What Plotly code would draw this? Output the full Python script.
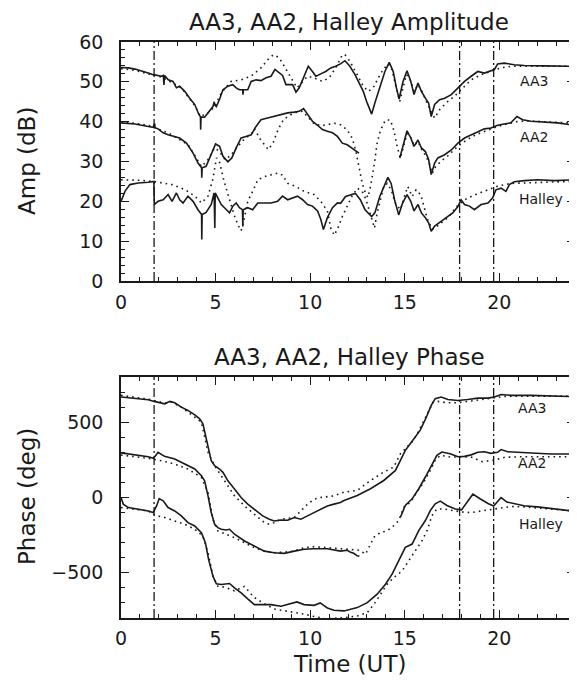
import plotly.graph_objects as go

# ---------------- data ----------------
event_times = [1.75, 17.9, 19.7]

# Amplitude panel (dB)
aa3_amp_t = [0, 0.4, 0.74, 1.1, 1.44, 1.7, 2.14, 2.24, 2.27, 2.3, 2.5, 2.75, 2.93, 3.1, 3.37, 3.63, 3.9, 4.1, 4.2, 4.21, 4.23, 4.42, 4.68, 4.86, 4.93, 4.95, 5.04, 5.2, 5.39, 5.65, 5.91, 6.09, 6.26, 6.43, 6.45, 6.47, 6.7, 6.88, 7.14, 7.4, 7.67, 7.93, 8.14, 8.37, 8.54, 8.72, 8.89, 9.07, 9.25, 9.42, 9.6, 9.77, 9.9, 10.12, 10.3, 10.56, 10.82, 11.09, 11.35, 11.6, 11.84, 12.1, 12.37, 12.63, 12.81, 12.98, 13.25, 13.42, 13.68, 13.95, 14.18, 14.39, 14.56, 14.7, 14.91, 15.12, 15.32, 15.49, 15.7, 15.88, 16.09, 16.26, 16.4, 16.58, 16.84, 17.11, 17.46, 17.81, 18.16, 18.51, 18.86, 19.21, 19.47, 19.74, 19.91, 20.26, 20.79, 21.32, 22.37, 24]
aa3_amp = [53.6, 53.5, 53.2, 52.6, 52.2, 51.8, 51.4, 51.6, 49.2, 51.6, 50.5, 50.1, 48.5, 48.9, 47.6, 45.9, 44.3, 42.0, 41.2, 38.0, 41.2, 41.1, 42.6, 43.8, 45.0, 44.2, 43.8, 45.5, 48.0, 48.9, 49.3, 48.5, 48.0, 48.0, 46.8, 48.0, 48.0, 50.1, 50.5, 50.3, 51.0, 51.4, 53.1, 52.2, 51.6, 49.3, 49.3, 49.3, 47.4, 48.5, 50.5, 52.6, 53.9, 52.6, 51.4, 52.0, 52.6, 53.5, 53.9, 54.5, 55.3, 53.9, 51.8, 49.3, 47.6, 45.1, 41.9, 44.7, 48.5, 52.6, 54.9, 52.6, 48.5, 45.7, 50.1, 52.8, 50.1, 46.8, 49.7, 47.6, 45.9, 44.7, 41.3, 44.3, 45.5, 45.9, 46.8, 48.5, 50.1, 51.4, 52.6, 52.2, 52.6, 53.1, 54.5, 54.7, 54.3, 54.1, 54.0, 53.9]

aa3_amp_model_t = [0, 0.74, 1.44, 2.14, 3.19, 3.9, 4.2, 4.6, 4.95, 5.3, 5.82, 6.35, 6.88, 7.4, 7.84, 8.07, 8.37, 8.72, 9.07, 9.3, 9.51, 9.86, 10.2, 10.65, 11.0, 11.35, 11.7, 11.84, 12.1, 12.46, 12.81, 13.07, 13.33, 13.6, 13.86, 14.12, 14.3, 14.51, 14.74, 14.91, 15.09, 15.26, 15.49, 15.7, 15.91, 16.14, 16.37, 16.58, 16.84, 17.19, 17.63, 18.07, 18.51, 19.04, 19.56, 20.09, 20.61, 21.32, 22.37, 24]
aa3_amp_model = [53.3, 52.9, 52.0, 51.2, 48.5, 44.0, 41.3, 42.2, 43.8, 47.2, 50.1, 50.5, 51.4, 53.5, 56.0, 56.8, 56.0, 53.1, 50.1, 48.5, 49.5, 51.4, 51.0, 50.1, 51.0, 53.5, 56.8, 56.8, 55.2, 51.8, 48.9, 47.6, 48.5, 51.0, 53.1, 54.5, 53.5, 49.3, 45.1, 48.5, 51.8, 51.0, 47.6, 49.3, 47.6, 45.1, 43.0, 40.9, 43.0, 44.7, 46.4, 48.5, 50.5, 51.8, 52.6, 53.5, 53.9, 53.9, 54.0, 53.9]

aa2_amp_t = [0, 0.3, 0.74, 1.44, 1.7, 1.78, 1.8, 1.96, 2.23, 2.49, 2.75, 3.1, 3.46, 3.81, 4.07, 4.26, 4.27, 4.29, 4.5, 4.77, 5.0, 5.21, 5.39, 5.65, 5.86, 6.09, 6.35, 6.61, 6.88, 7.14, 7.4, 7.75, 8.1, 8.46, 8.81, 9.16, 9.42, 9.65, 9.86, 10.12, 10.39, 10.65, 10.91, 11.18, 11.44, 11.7, 11.96, 12.32, 12.58, 13.5, 14.74, 14.91, 15.12, 15.32, 15.49, 15.7, 15.88, 16.09, 16.26, 16.4, 16.58, 16.75, 17.11, 17.46, 17.81, 18.16, 18.51, 18.86, 19.21, 19.56, 19.91, 20.26, 20.61, 20.93, 21.23, 21.67, 22.37, 23.07, 24]
aa2_amp = [39.7, 39.6, 39.4, 38.8, 38.6, 39.5, 38.5, 38.2, 37.2, 36.7, 36.3, 35.9, 34.6, 32.1, 29.6, 28.4, 25.9, 28.4, 28.8, 32.1, 34.4, 33.8, 31.3, 29.9, 30.9, 33.4, 35.9, 36.3, 36.7, 38.8, 40.5, 40.9, 41.3, 41.9, 42.2, 42.4, 42.6, 43.3, 41.8, 40.1, 39.1, 38.0, 37.6, 37.2, 36.3, 34.6, 34.2, 32.9, 32.1, None, 30.9, 34.2, 37.7, 35.9, 33.8, 35.4, 33.4, 32.5, 30.5, 26.7, 29.6, 30.9, 31.7, 32.9, 34.6, 35.9, 36.7, 37.6, 38.2, 38.4, 39.1, 39.4, 39.7, 41.3, 40.5, 40.1, 39.9, 39.7, 39.1]

aa2_amp_model_t = [0, 0.74, 1.44, 2.49, 3.55, 4.07, 4.26, 4.6, 4.95, 5.2, 5.5, 5.8, 6.1, 6.5, 6.9, 7.05, 7.4, 7.79, 8.05, 8.3, 8.6, 9.0, 9.3, 9.6, 9.9, 10.2, 10.6, 11.0, 11.3, 11.61, 11.96, 12.23, 12.4, 12.58, 12.75, 12.93, 13.05, 13.19, 13.37, 13.54, 13.72, 13.98, 14.24, 14.42, 14.6, 14.77, 14.95, 15.12, 15.32, 15.49, 15.7, 15.9, 16.1, 16.3, 16.45, 16.6, 16.9, 17.3, 17.8, 18.3, 18.8, 19.3, 19.8, 20.3, 20.9, 21.5, 22.4, 23.2, 24]
aa2_amp_model = [39.9, 39.6, 39.1, 37.2, 34.2, 30.0, 28.7, 30.5, 33.4, 32.5, 30.5, 31.5, 33.4, 35.5, 37.0, 38.2, 35.3, 33.0, 34.8, 38.0, 40.6, 41.8, 42.4, 42.6, 41.0, 39.5, 39.0, 39.3, 39.6, 39.2, 37.9, 35.8, 32.9, 28.7, 24.5, 22.0, 21.0, 23.7, 28.7, 34.6, 37.9, 40.4, 40.4, 37.9, 33.7, 30.8, 34.0, 37.0, 36.0, 34.0, 35.0, 33.0, 31.5, 29.5, 27.0, 28.5, 30.0, 31.5, 33.8, 35.5, 36.8, 37.8, 38.6, 39.3, 40.0, 40.2, 40.0, 39.8, 39.6]

halley_amp_t = [0, 0.21, 0.47, 0.91, 1.44, 1.74, 1.76, 1.96, 2.23, 2.49, 2.7, 2.93, 3.1, 3.28, 3.54, 3.81, 4.07, 4.26, 4.27, 4.29, 4.5, 4.77, 4.92, 4.96, 4.98, 5.12, 5.3, 5.47, 5.74, 5.91, 6.09, 6.26, 6.42, 6.44, 6.46, 6.7, 6.96, 7.23, 7.58, 7.93, 8.28, 8.54, 8.81, 9.07, 9.33, 9.6, 9.86, 10.12, 10.39, 10.56, 10.7, 10.91, 11.18, 11.44, 11.61, 11.87, 12.13, 12.39, 12.65, 12.9, 13.25, 13.42, 13.68, 13.95, 14.11, 14.28, 14.46, 14.68, 14.88, 15.12, 15.32, 15.49, 15.7, 15.88, 16.09, 16.26, 16.4, 16.58, 16.84, 17.19, 17.54, 17.81, 17.98, 18.16, 18.42, 18.68, 19.04, 19.4, 19.65, 19.82, 20.09, 20.35, 20.53, 20.79, 21.32, 22.02, 22.9, 24]
halley_amp = [20.0, 22.5, 24.2, 24.6, 24.8, 25.0, 19.2, 20.0, 20.4, 21.7, 20.0, 22.1, 20.4, 19.6, 21.3, 20.0, 17.9, 16.7, 10.4, 16.7, 17.2, 19.2, 22.1, 13.3, 22.1, 20.9, 19.2, 18.4, 17.1, 18.8, 19.6, 18.4, 17.9, 13.7, 17.9, 18.4, 17.9, 19.6, 19.6, 19.6, 20.0, 21.3, 20.4, 20.9, 21.3, 20.4, 19.2, 18.8, 17.6, 15.5, 12.9, 15.9, 18.4, 19.6, 19.5, 21.2, 21.6, 22.0, 20.4, 17.9, 16.2, 17.1, 21.2, 24.5, 26.0, 24.5, 20.4, 16.6, 19.5, 21.7, 20.0, 17.6, 19.2, 17.1, 15.9, 14.6, 12.5, 13.8, 14.6, 15.9, 17.1, 18.7, 20.4, 19.2, 18.8, 17.9, 19.2, 19.6, 20.9, 22.9, 23.3, 22.5, 24.2, 24.9, 25.2, 25.4, 25.2, 25.4]

halley_amp_model_t = [0, 1.0, 1.7, 2.7, 3.4, 3.9, 4.25, 4.6, 4.85, 5.05, 5.2, 5.45, 5.7, 5.98, 6.18, 6.35, 6.52, 6.7, 6.96, 7.23, 7.58, 7.93, 8.28, 8.54, 8.81, 9.25, 9.68, 10.21, 10.56, 10.91, 11.1, 11.28, 11.5, 11.7, 11.96, 12.2, 12.49, 12.75, 12.95, 13.1, 13.28, 13.4, 13.54, 13.72, 13.89, 14.07, 14.28, 14.51, 14.77, 14.98, 15.16, 15.39, 15.6, 15.85, 16.0, 16.2, 16.45, 16.65, 16.9, 17.3, 17.8, 18.3, 18.8, 19.4, 19.9, 20.6, 21.5, 22.5, 24]
halley_amp_model = [25.4, 25.3, 25.0, 24.2, 22.9, 21.3, 19.6, 21.3, 25.5, 30.9, 30.0, 25.0, 21.0, 16.6, 14.1, 12.6, 15.7, 20.0, 22.5, 25.4, 26.2, 26.6, 27.1, 26.6, 24.5, 23.7, 22.5, 21.7, 20.0, 17.6, 13.0, 11.5, 13.7, 16.2, 18.7, 21.2, 23.3, 22.5, 20.5, 17.9, 15.4, 13.3, 17.1, 20.4, 23.7, 24.5, 22.9, 19.5, 17.9, 21.2, 23.7, 21.2, 22.9, 21.6, 19.0, 15.5, 13.0, 13.5, 14.5, 16.0, 19.0, 20.8, 21.8, 22.9, 23.8, 24.5, 24.7, 24.8, 25.0]

# Phase panel (deg)
aa3_ph_t = [0, 0.74, 1.44, 1.75, 2.14, 2.32, 2.58, 2.84, 3.19, 3.54, 3.9, 4.16, 4.33, 4.46, 4.6, 4.77, 4.95, 5.21, 5.39, 5.65, 6.0, 6.35, 6.7, 7.05, 7.49, 7.84, 8.1, 8.46, 8.81, 9.16, 9.51, 9.86, 10.21, 10.56, 10.91, 11.26, 11.6, 11.79, 12.49, 13.19, 13.89, 14.51, 14.77, 15.03, 15.3, 15.56, 15.82, 16.14, 16.4, 16.61, 16.93, 17.28, 17.81, 18.33, 18.86, 19.39, 19.74, 20.09, 20.61, 21.67, 22.72, 24]
aa3_ph = [667, 660, 649, 638, 627, 622, 638, 629, 600, 578, 549, 522, 489, 411, 322, 244, 211, 189, 167, 111, 56, 0, -44, -78, -122, -144, -156, -149, -151, -133, -144, -122, -100, -73, -56, -44, -33, -20, 13, 58, 113, 180, 247, 313, 358, 402, 447, 533, 611, 656, 667, 651, 644, 651, 660, 660, 667, 684, 678, 678, 673, 669]

aa3_ph_model_t = [0, 1.44, 2.32, 2.67, 3.19, 4.25, 4.6, 4.95, 5.3, 5.65, 6.0, 6.53, 7.05, 7.58, 7.84, 8.1, 8.46, 9.16, 9.86, 10.21, 10.56, 11.26, 11.79, 12.49, 13.19, 13.89, 14.42, 14.77, 15.12, 15.47, 15.8, 16.14, 16.5, 16.75, 17.28, 17.81, 18.33, 19.04, 19.74, 20.26, 21.3, 24]
aa3_ph_model = [678, 653, 627, 633, 600, 500, 300, 211, 144, 78, 11, -56, -111, -167, -178, -167, -144, -133, -44, -11, 0, 11, 36, 47, 113, 169, 202, 291, 336, 380, 456, 544, 633, 638, 629, 629, 638, 651, 660, 671, 673, 673]

aa2_ph_t = [0, 0.74, 1.44, 1.72, 1.96, 2.3, 2.84, 3.37, 3.9, 4.25, 4.42, 4.6, 4.77, 4.95, 5.12, 5.3, 5.56, 5.74, 6.0, 6.53, 7.05, 7.58, 8.1, 8.63, 9.16, 9.68, 10.21, 10.91, 11.6, 11.96, 12.14, 12.3, 12.49, 12.6, 13.7, 14.77, 15.03, 15.39, 15.74, 16.09, 16.44, 16.7, 16.96, 17.4, 17.81, 18.16, 18.51, 18.86, 19.21, 19.56, 19.91, 20.09, 20.44, 20.96, 21.67, 22.72, 24]
aa2_ph = [296, 284, 271, 260, 300, 273, 256, 222, 189, 144, 111, 11, -100, -178, -200, -211, -216, -211, -244, -289, -322, -356, -367, -371, -356, -344, -340, -340, -356, -350, -364, -370, -387, -389, None, -131, -53, -9, 58, 136, 224, 280, 302, 291, 271, 273, 283, 300, 304, 293, 300, 318, 304, 300, 296, 289, 289]

aa2_ph_model_t = [0, 1.44, 2.14, 2.84, 3.54, 4.25, 4.6, 4.86, 5.12, 5.47, 6.0, 6.53, 7.05, 7.58, 8.1, 8.63, 9.16, 9.68, 10.21, 10.91, 11.6, 12.14, 12.6, 12.93, 13.37, 13.72, 14.07, 14.42, 14.68, 14.95, 15.3, 15.65, 16.0, 16.35, 16.61, 16.88, 17.4, 17.9, 18.5, 19.1, 19.7, 20.3, 21.3, 24]
aa2_ph_model = [282, 260, 244, 222, 189, 133, 33, -144, -222, -238, -267, -300, -333, -356, -367, -362, -356, -333, -327, -333, -340, -342, -350, -376, -264, -231, -222, -187, -153, -64, -31, 36, 102, 180, 247, 280, 269, 269, 269, 238, 248, 267, 271, 271]

halley_ph_t = [0, 0.12, 0.39, 0.91, 1.44, 1.7, 1.88, 2.02, 2.23, 2.49, 2.84, 3.19, 3.54, 3.9, 4.25, 4.46, 4.63, 4.86, 5.04, 5.3, 5.74, 6.0, 6.35, 6.7, 7.05, 7.4, 7.93, 8.46, 8.81, 9.3, 9.68, 10.21, 10.53, 10.91, 11.26, 11.79, 12.49, 13.02, 13.54, 13.98, 14.33, 14.68, 15.03, 15.39, 15.74, 16.09, 16.35, 16.61, 16.88, 17.23, 17.67, 18.0, 18.3, 18.6, 19.0, 19.4, 19.7, 20.09, 20.4, 20.8, 21.3, 22.0, 23.0, 24]
halley_ph = [0, -44, -67, -78, -89, -100, -56, -7, -22, -67, -89, -122, -167, -189, -233, -300, -411, -522, -573, -578, -571, -600, -633, -673, -711, -711, -711, -722, -711, -693, -711, -716, -700, -733, -749, -753, -731, -698, -642, -576, -509, -420, -331, -309, -220, -153, -87, -42, -24, -53, -76, -82, -30, 22, -10, -40, -56, 0, -30, -40, -55, -62, -75, -92]

halley_ph_model_t = [0, 0.74, 1.44, 1.79, 2.32, 2.84, 3.37, 3.9, 4.33, 4.6, 4.86, 5.12, 5.47, 6.0, 6.53, 7.0, 7.5, 8.1, 8.6, 9.2, 9.7, 10.2, 10.8, 11.79, 12.49, 13.02, 13.37, 13.72, 14.07, 14.42, 14.86, 15.21, 15.56, 15.91, 16.18, 16.44, 16.7, 17.05, 17.58, 18.0, 18.5, 19.0, 19.5, 20.0, 20.6, 21.3, 22.2, 23.0, 24]
halley_ph_model = [-67, -78, -89, -118, -133, -156, -178, -211, -256, -367, -522, -589, -595, -620, -590, -660, -700, -740, -750, -760, -775, -790, -805, -798, -787, -764, -709, -642, -576, -531, -487, -420, -353, -287, -220, -120, -76, -76, -87, -96, -100, -90, -80, -70, -60, -62, -70, -80, -90]

station_names = ["AA3", "AA2", "Halley"]
amp_label_t = [21.85, 21.85, 22.2]
amp_label_y = [50.3, 36.1, 20.6]
ph_label_t = [21.75, 21.75, 22.2]
ph_label_y = [593, 229, -178]

# ---------------- figure ----------------
OFF = 8                      # default page (body) margin of the written html
W, H = 577 - OFF, 680 - OFF  # figure size so that it ends at the window edge
ML, MR = 121 - OFF, 2        # plot area spans page x 121..575
FONT = "DejaVu Sans"
INK = "#1a1a1a"
SOLID = dict(color=INK, width=1.6)
DOTTED = dict(color=INK, width=1.6, dash="1.6px,4px")


def py(p):
    """page pixel row -> paper y"""
    return 1 - (p - OFF) / H


def px(p):
    """page pixel column -> paper x"""
    return (p - OFF - ML) / (W - ML - MR)


fig = go.Figure()

amp_series = [(aa3_amp_t, aa3_amp, SOLID), (aa3_amp_model_t, aa3_amp_model, DOTTED),
              (aa2_amp_t, aa2_amp, SOLID), (aa2_amp_model_t, aa2_amp_model, DOTTED),
              (halley_amp_t, halley_amp, SOLID), (halley_amp_model_t, halley_amp_model, DOTTED)]
for t, v, ln in amp_series:
    fig.add_trace(go.Scatter(x=t, y=v, mode="lines", line=ln, xaxis="x", yaxis="y",
                             showlegend=False, connectgaps=False, hoverinfo="skip"))

ph_series = [(aa3_ph_t, aa3_ph, SOLID), (aa3_ph_model_t, aa3_ph_model, DOTTED),
             (aa2_ph_t, aa2_ph, SOLID), (aa2_ph_model_t, aa2_ph_model, DOTTED),
             (halley_ph_t, halley_ph, SOLID), (halley_ph_model_t, halley_ph_model, DOTTED)]
for t, v, ln in ph_series:
    fig.add_trace(go.Scatter(x=t, y=v, mode="lines", line=ln, xaxis="x2", yaxis="y2",
                             showlegend=False, connectgaps=False, hoverinfo="skip"))

# dash-dot event markers
for xr, yr in (("x", "y domain"), ("x2", "y2 domain")):
    for et in event_times:
        fig.add_shape(type="line", xref=xr, yref=yr, x0=et, x1=et, y0=0, y1=1,
                      line=dict(color=INK, width=1.3, dash="9px,3px,2px,3px"))

# station labels
small = dict(family=FONT, size=14, color=INK)
for name, t, v in zip(station_names, amp_label_t, amp_label_y):
    fig.add_annotation(x=t, y=v, xref="x", yref="y", text=name, showarrow=False, font=small)
for name, t, v in zip(station_names, ph_label_t, ph_label_y):
    fig.add_annotation(x=t, y=v, xref="x2", yref="y2", text=name, showarrow=False, font=small)

# titles
big = dict(family=FONT, size=23, color=INK)
fig.add_annotation(x=px(349), y=1, xref="paper", yref="paper", text="AA3, AA2, Halley Amplitude",
                   showarrow=False, font=big, yanchor="top", borderpad=0)
fig.add_annotation(x=px(349), y=py(357), xref="paper", yref="paper", text="AA3, AA2, Halley Phase",
                   showarrow=False, font=big, yanchor="middle")
fig.add_annotation(x=px(349), y=py(664), xref="paper", yref="paper", text="Time (UT)",
                   showarrow=False, font=big, yanchor="middle")
fig.add_annotation(x=px(27), y=py(161), xref="paper", yref="paper", text="Amp (dB)",
                   showarrow=False, font=big, textangle=-90, xanchor="center", yanchor="middle")
fig.add_annotation(x=px(27), y=py(497), xref="paper", yref="paper", text="Phase (deg)",
                   showarrow=False, font=big, textangle=-90, xanchor="center", yanchor="middle")

tickfont = dict(family=FONT, size=19, color=INK)
common = dict(showgrid=False, zeroline=False, showline=True, linecolor=INK, linewidth=1.5,
              ticks="inside", ticklen=8, tickwidth=1.3, tickcolor=INK, mirror="allticks",
              tickfont=tickfont, automargin=False)
minor_style = dict(ticklen=4, ticks="inside", tickcolor=INK, tickwidth=1.1)

fig.update_layout(
    width=W, height=H, paper_bgcolor="white", plot_bgcolor="white",
    margin=dict(l=ML, r=MR, t=0, b=0, autoexpand=False),
    xaxis=dict(domain=[0, 1], range=[0, 24], anchor="y", tick0=0, dtick=5,
               minor=dict(dtick=1, **minor_style), ticklabelstandoff=3, **common),
    yaxis=dict(domain=[py(281), py(42)], range=[0, 60], anchor="x", tick0=0, dtick=10,
               minor=dict(dtick=2, **minor_style), ticklabelstandoff=12, **common),
    xaxis2=dict(domain=[0, 1], range=[0, 24], anchor="y2", tick0=0, dtick=5,
                minor=dict(dtick=1, **minor_style), ticklabelstandoff=2, **common),
    yaxis2=dict(domain=[py(618), py(377)], range=[-800, 800], anchor="x2", tick0=0, dtick=500,
                minor=dict(dtick=100, **minor_style), ticklabelstandoff=12, **common),
)

fig.write_html("out.html")
